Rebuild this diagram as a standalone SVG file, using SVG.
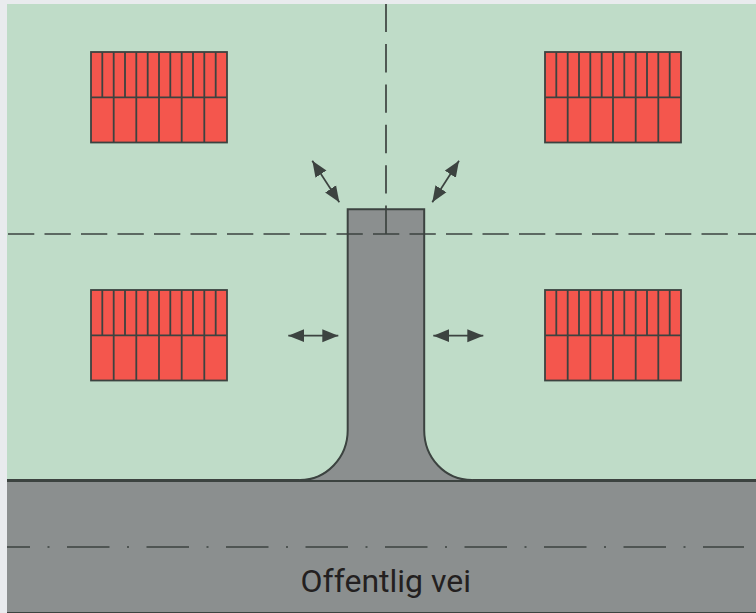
<svg xmlns="http://www.w3.org/2000/svg" width="756" height="613" viewBox="0 0 756 613">
<style>
.w{fill:#f4564d;stroke:#3c4340;stroke-width:1.8}
.d{fill:none;stroke:#3c4340;stroke-width:1.800}
.l{fill:none;stroke:#3c4340;stroke-width:1.700}
.a{fill:none;stroke:#3c4340;stroke-width:1.700;marker-start:url(#h);marker-end:url(#h)}
</style>
<defs>
<marker id="h" markerUnits="userSpaceOnUse" markerWidth="17" markerHeight="14" refX="16" refY="7" orient="auto-start-reverse"><path d="M0 0.500L16 7L0 13.500Z" fill="#3c4340"/></marker>
<g id="win">
<rect class="w" x="0" y="0" width="136" height="90.500"/>
<path class="d" d="M0 45.300H136M11.300 0V45.300M22.700 0V90.500M34 0V45.300M45.300 0V90.500M56.700 0V45.300M68 0V90.500M79.300 0V45.300M90.700 0V90.500M102 0V45.300M113.300 0V90.500M124.700 0V45.300"/>
</g>
</defs>
<rect width="756" height="613" fill="#e9ebee"/>
<rect id="site" x="7" y="4" width="749" height="476" fill="#bfdcc8"/>
<g id="road">
<rect x="7" y="480" width="749" height="133" fill="#8b8f8f"/>
<path d="M7 480.500H756" stroke="#3c4340" stroke-width="3" fill="none"/>
<path d="M7 612.500H756" stroke="#3c4340" stroke-width="1" fill="none"/>
</g>
<g id="driveway">
<path d="M347.700 209.200H424.200V430C424.200 458 446 480 474 480H298C325 480 347.700 458 347.700 430Z" fill="#8b8f8f"/>
<path d="M300 480C326 480 347.700 458 347.700 430V209.200H424.200V430C424.200 458 445 480 472 480" fill="none" stroke="#3c4340" stroke-width="2"/>
</g>
<g id="windows">
<use id="window-1" href="#win" x="91" y="52"/>
<use id="window-2" href="#win" x="545" y="52"/>
<use id="window-3" href="#win" x="91" y="290"/>
<use id="window-4" href="#win" x="545" y="290"/>
</g>
<g id="connectors">
<path class="l" d="M8 234H756" stroke-dasharray="26.300 10.200"/>
<path class="l" d="M386 234V4" stroke-dasharray="28.400 12"/>
<path class="l" style="stroke-width:1.400" d="M7 547H744" stroke-dasharray="42.500 17.500 2 17.500" stroke-dashoffset="19.500"/>
<path class="a" d="M339.300 202.300L312.300 160.700"/>
<path class="a" d="M432.300 202.300L459 160.700"/>
<path class="a" d="M338.300 335.700H288.300"/>
<path class="a" d="M433.300 335.700H483.300"/>
</g>
<text id="label" x="385.800" y="592.300" font-family="Roboto, sans-serif" font-size="32" text-anchor="middle" fill="#231f20">Offentlig vei</text>
</svg>
